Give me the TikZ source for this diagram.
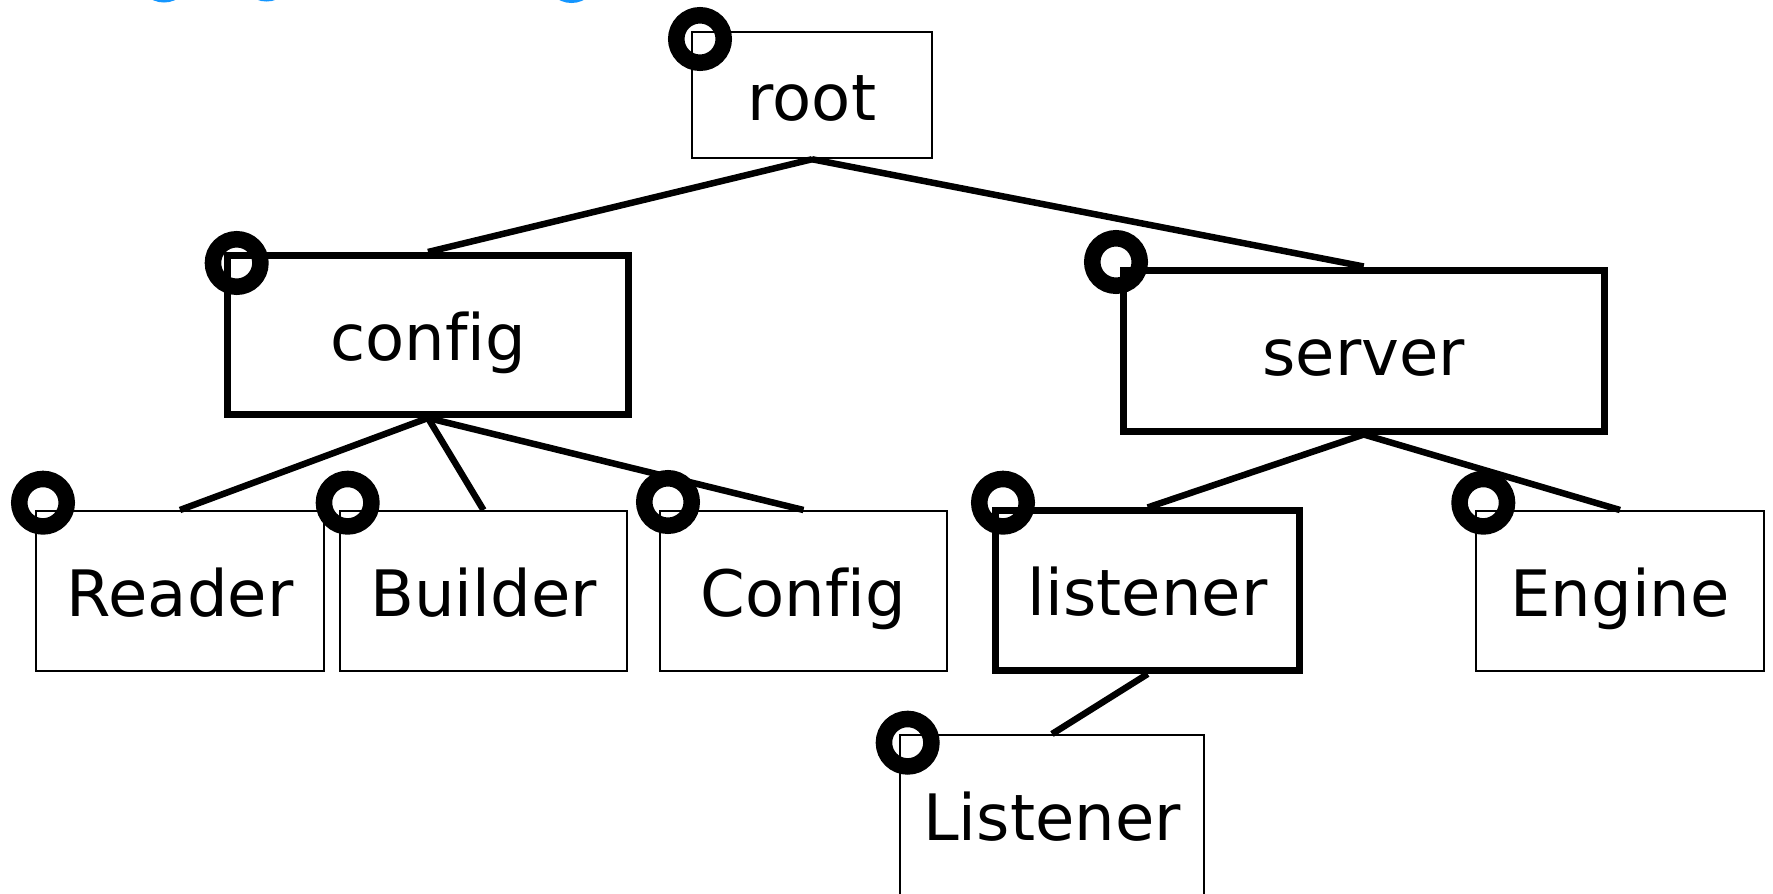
\documentclass[tikz,border=0pt]{standalone}
\usepackage{fontspec}
\setmainfont{DejaVu Sans}[Ligatures=NoCommon]
\definecolor{skyblue}{RGB}{20,150,255}
\begin{document}
\begin{tikzpicture}[x=1pt,y=-1pt,
  box/.style={draw, line width=2pt, minimum height=160pt, inner sep=0pt,
              font=\fontsize{64}{76}\selectfont, text height=50pt, text depth=0pt},
  thickbox/.style={box, line width=7pt},
  edge/.style={line width=6.5pt},
  ring/.style={line width=16.5pt},
  arcpart/.style={draw=skyblue, line width=3pt}]
\useasboundingbox (0,0) rectangle (1773,894);

% rings peeking in from above
\draw[arcpart] (164,-24) circle[radius=25];
\draw[arcpart] (266.5,-25) circle[radius=25];
\draw[arcpart] (571.5,-23.5) circle[radius=25];

% tree nodes
\node[box, minimum width=240pt, minimum height=126.5pt] (root) at (812,95) {root};
\node[thickbox, minimum width=401pt, minimum height=159pt] (config) at (428,335) {config};
\node[thickbox, minimum width=481pt, minimum height=161pt] (server) at (1363.7,350.5) {server};
\node[box, minimum width=288pt] (reader) at (180,591) {Reader};
\node[box, minimum width=287pt] (builder) at (483.5,591) {Builder};
\node[box, minimum width=287pt] (configcls) at (803.5,591) {Config};
\node[thickbox, minimum width=303.5pt, minimum height=159.5pt] (listener) at (1147.7,590.7) {listener};
\node[box, minimum width=288pt] (engine) at (1620,591) {Engine};
\node[box, minimum width=304pt] (listenercls) at (1052,815) {Listener};

% corner rings
\draw[ring] (700,39) circle[radius=23.75];
\draw[ring] (236.7,263) circle[radius=23.75];
\draw[ring] (1116,262) circle[radius=23.75];
\draw[ring] (43,502.7) circle[radius=23.75];
\draw[ring] (347.7,502.7) circle[radius=23.75];
\draw[ring] (668,502) circle[radius=23.75];
\draw[ring] (1003,502.7) circle[radius=23.75];
\draw[ring] (1483.3,502.7) circle[radius=23.75];
\draw[ring] (907.7,742.7) circle[radius=23.75];

% connectors
\draw[edge] (root.south) -- (config.north);
\draw[edge] (root.south) -- (server.north);
\draw[edge] (config.south) -- (reader.north);
\draw[edge] (config.south) -- (builder.north);
\draw[edge] (config.south) -- (configcls.north);
\draw[edge] (server.south) -- (listener.north);
\draw[edge] (server.south) -- (engine.north);
\draw[edge] (listener.south) -- (listenercls.north);
\end{tikzpicture}
\end{document}
